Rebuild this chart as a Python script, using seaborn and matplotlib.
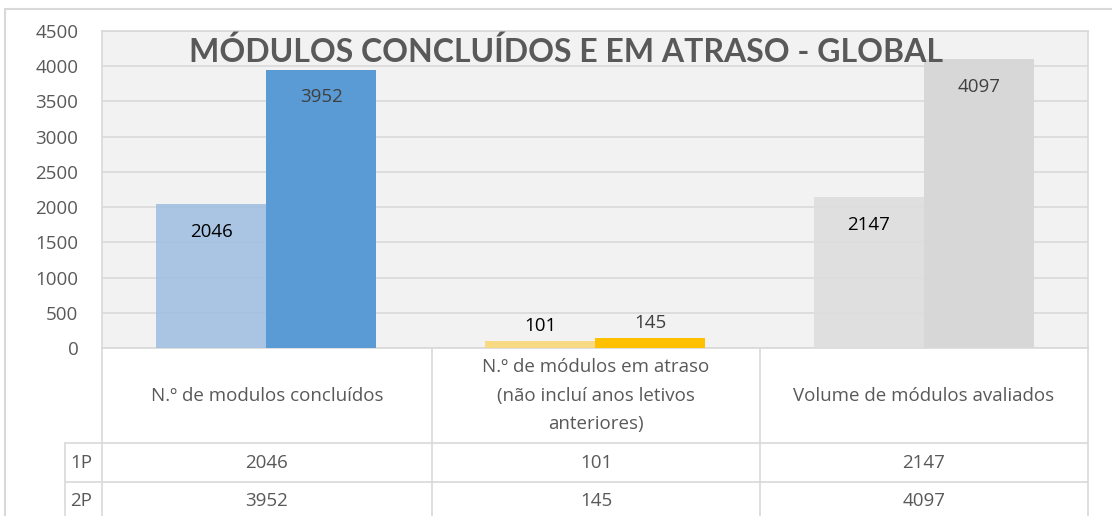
import matplotlib
matplotlib.use('Agg')
import matplotlib.pyplot as plt
import matplotlib.patches as mpatches
import matplotlib.lines as mlines
import pandas as pd
import seaborn as sns

categorias = ['N.º de modulos concluídos',
              'N.º de módulos em atraso\n(não incluí anos letivos\nanteriores)',
              'Volume de módulos avaliados']
periodos = ['1P', '2P']
valores_1p = [2046, 101, 2147]
valores_2p = [3952, 145, 4097]
cores_1p = ['#9fbfe1', '#f8d774', '#dddddd']
cores_2p = ['#5b9bd5', '#ffc000', '#d7d7d7']
titulo = 'MÓDULOS CONCLUÍDOS E EM ATRASO - GLOBAL'

df = pd.DataFrame({
    'categoria': categorias * 2,
    'periodo': [periodos[0]] * 3 + [periodos[1]] * 3,
    'valor': valores_1p + valores_2p,
})

sns.set_style('white')
plt.rcParams['font.family'] = ['Open Sans', 'DejaVu Sans']
fs = 13.5

W, H = 1112, 516
fig = plt.figure(figsize=(W / 100, H / 100), dpi=100)
fig.patch.set_facecolor('white')

def fx(px):
    return px / W

def fy(py):
    return 1 - py / H

left, right, top, bottom = 102, 1088, 31, 348
ax = fig.add_axes([fx(left), fy(bottom), fx(right - left), (bottom - top) / H])
ax.set_facecolor('#f2f2f2')

sns.barplot(data=df, x='categoria', y='valor', hue='periodo', hue_order=periodos,
            order=categorias, width=0.67, palette=['#a9c5e3', '#5b9bd5'],
            ax=ax, legend=False, saturation=1, zorder=3)

# recolor per category, Excel style
for bar, c in zip(ax.containers[0], cores_1p):
    bar.set_facecolor(c)
    bar.set_alpha(0.88)
    bar.set_edgecolor('none')
for bar, c in zip(ax.containers[1], cores_2p):
    bar.set_facecolor(c)
    bar.set_edgecolor('none')

# data labels
for cont, vals, cor in [(ax.containers[0], valores_1p, 'black'),
                        (ax.containers[1], valores_2p, '#404040')]:
    for bar, v in zip(cont, vals):
        xc = bar.get_x() + bar.get_width() / 2
        off = -20 if v > 1000 else 11
        ax.annotate(str(v), (xc, v), xytext=(0, off), textcoords='offset points',
                    ha='center', va='center', fontsize=fs, color=cor, zorder=5)

ax.set_ylim(0, 4500)
ax.set_xlim(-0.5, 2.5)
ax.set_yticks(range(0, 4501, 500))
ax.yaxis.grid(True, color='#d9d9d9', linewidth=1.2)
for l in ax.get_ygridlines():
    l.set_zorder(2)
ax.tick_params(axis='y', length=0, pad=17, labelsize=fs, labelcolor='#595959')
ax.set_xticks([])
ax.set_xlabel('')
ax.set_ylabel('')
for s in ax.spines.values():
    s.set_color('#d9d9d9')
    s.set_linewidth(1.2)

# title
fig.text(fx(566), fy(52), titulo, ha='center', va='center', fontsize=23,
         fontweight='bold', color='#595959', family=['Lato', 'DejaVu Sans'], zorder=10)

# outer chart border
fig.add_artist(mpatches.Rectangle((fx(5), fy(600)), fx(1200), (600 - 9) / H,
                                  transform=fig.transFigure, fill=False,
                                  edgecolor='#d9d9d9', linewidth=1.5))

# data table below the plot
lc = '#d9d9d9'

def hline(y, x0, x1):
    fig.add_artist(mlines.Line2D([fx(x0), fx(x1)], [fy(y), fy(y)], color=lc, lw=1.2,
                                 transform=fig.transFigure))

def vline(x, y0, y1):
    fig.add_artist(mlines.Line2D([fx(x), fx(x)], [fy(y0), fy(y1)], color=lc, lw=1.2,
                                 transform=fig.transFigure))

col_edges = [102, 432, 760, 1088]
for x in col_edges:
    vline(x, 348, 516)
vline(65, 443, 516)
hline(443, 65, 1088)
hline(482, 65, 1088)

tc = '#595959'
for i, cat in enumerate(categorias):
    xc = (col_edges[i] + col_edges[i + 1]) / 2
    fig.text(fx(xc), fy(396), cat, ha='center', va='center', fontsize=fs,
             color=tc, linespacing=1.75)
    fig.text(fx(xc), fy(463), str(valores_1p[i]), ha='center', va='center',
             fontsize=fs, color=tc)
    fig.text(fx(xc), fy(501), str(valores_2p[i]), ha='center', va='center',
             fontsize=fs, color=tc)
for p, yc in zip(periodos, [463, 501]):
    fig.text(fx(70), fy(yc), p, ha='left', va='center', fontsize=fs, color=tc)

fig.savefig('out.png', dpi=100)
